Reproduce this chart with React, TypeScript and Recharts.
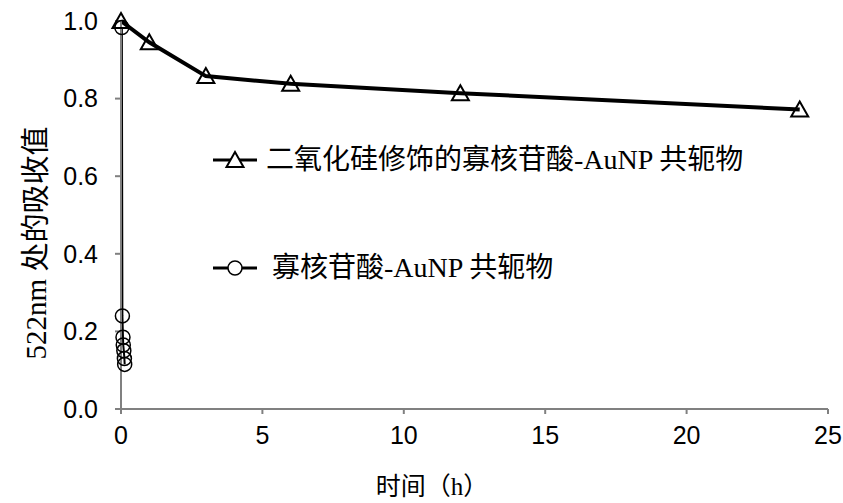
import React from 'react';
import { LineChart, Line, XAxis, YAxis, Legend } from 'recharts';

// 二氧化硅修饰的共轭物（三角形）
const timeSilica = [0, 1, 3, 6, 12, 24];
const absSilica = [1.0, 0.945, 0.858, 0.838, 0.814, 0.772];

// 未修饰的共轭物（圆形），几分钟内全部聚集
const timeBare = [0.03, 0.05, 0.07, 0.08, 0.1, 0.12, 0.13];
const absBare = [0.983, 0.24, 0.185, 0.165, 0.15, 0.13, 0.115];

const xTicks = [0, 5, 10, 15, 20, 25];
const yTicks = [0, 0.2, 0.4, 0.6, 0.8, 1.0];

const seriesNames = ['二氧化硅修饰的寡核苷酸-AuNP 共轭物', '寡核苷酸-AuNP 共轭物'];
const xLabel = '时间（h）';
const yLabel = '522nm 处的吸收值';

const SERIF = '"Liberation Serif", "Noto Sans CJK SC", serif';
const SANS = '"Liberation Sans", Arial, sans-serif';
const AXIS = '#808080';

const silicaData = timeSilica.map((t, i) => ({ t, v: absSilica[i] }));
const bareData = timeBare.map((t, i) => ({ t, v: absBare[i] }));

const TriangleDot = (props: any) => {
  const { cx, cy } = props;
  if (cx == null || cy == null) return null;
  return (
    <path
      d={`M${cx},${cy - 8} L${cx + 8.5},${cy + 7} L${cx - 8.5},${cy + 7} Z`}
      fill="none"
      stroke="#000"
      strokeWidth={2}
    />
  );
};

const renderLegend = () => (
  <div style={{ fontFamily: SERIF, fontSize: 28, color: '#000', lineHeight: '40px' }}>
    {seriesNames.map((name, i) => (
      <div
        key={name}
        style={{ display: 'flex', alignItems: 'center', height: 40, marginBottom: i === 0 ? 68 : 0 }}
      >
        <svg width={46} height={20} style={{ flex: 'none' }}>
          <line x1={1} y1={10} x2={45} y2={10} stroke="#000" strokeWidth={3} />
          {i === 0 ? (
            <path d="M23,2 L31.5,17 L14.5,17 Z" fill="#fff" stroke="#000" strokeWidth={2} />
          ) : (
            <circle cx={23} cy={10} r={7} fill="#fff" stroke="#000" strokeWidth={1.5} />
          )}
        </svg>
        <span style={{ marginLeft: i === 0 ? 8 : 14, whiteSpace: 'nowrap' }}>{name}</span>
      </div>
    ))}
  </div>
);

export default function App() {
  return (
    <div style={{ position: 'absolute', left: 0, top: 0, background: '#fff' }}>
      <LineChart width={843} height={503} margin={{ top: 21, right: 15, bottom: 0, left: 0 }}>
        <XAxis
          dataKey="t"
          type="number"
          domain={[0, 25]}
          ticks={xTicks}
          allowDuplicatedCategory={false}
          height={94}
          stroke={AXIS}
          strokeWidth={2}
          tickSize={5}
          tickMargin={12}
          tick={{ fill: '#000', fontSize: 25, fontFamily: SANS }}
          label={{
            content: (props: any) => {
              const vb = props.viewBox || {};
              return (
                <text
                  x={432}
                  y={(vb.y || 409) + 86}
                  textAnchor="middle"
                  fontFamily={SERIF}
                  fontSize={25}
                  fill="#000"
                >
                  {xLabel}
                </text>
              );
            },
          }}
        />
        <YAxis
          type="number"
          domain={[0, 1]}
          ticks={yTicks}
          width={121}
          stroke={AXIS}
          strokeWidth={2}
          tickSize={6}
          tickMargin={17}
          tickFormatter={(v: number) => v.toFixed(1)}
          tick={{ fill: '#000', fontSize: 25, fontFamily: SANS }}
          label={{
            content: (props: any) => {
              const vb = props.viewBox || {};
              const cx = (vb.x || 0) + 36;
              const cy = (vb.y || 21) + (vb.height || 388) / 2 + 28;
              return (
                <text
                  x={cx}
                  y={cy}
                  transform={`rotate(-90, ${cx}, ${cy})`}
                  textAnchor="middle"
                  dominantBaseline="central"
                  fontFamily={SERIF}
                  fontSize={29}
                  fill="#000"
                >
                  {yLabel}
                </text>
              );
            },
          }}
        />
        <Legend
          verticalAlign="middle"
          align="center"
          layout="horizontal"
          content={renderLegend}
          wrapperStyle={{ left: 212, top: 140, width: 580 }}
        />
        <Line
          data={bareData}
          dataKey="v"
          name={seriesNames[1]}
          type="linear"
          stroke="#000"
          strokeWidth={2}
          dot={{ r: 7, fill: 'none', stroke: '#000', strokeWidth: 1.5 }}
          isAnimationActive={false}
        />
        <Line
          data={silicaData}
          dataKey="v"
          name={seriesNames[0]}
          type="linear"
          stroke="#000"
          strokeWidth={4}
          dot={<TriangleDot />}
          isAnimationActive={false}
        />
      </LineChart>
    </div>
  );
}
